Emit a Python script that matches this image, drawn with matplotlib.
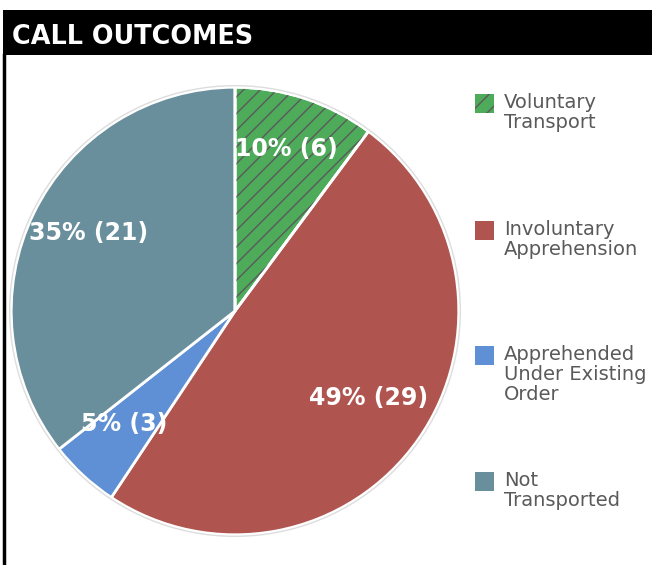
import numpy as np
import matplotlib
matplotlib.use("Agg")
import matplotlib.pyplot as plt
from matplotlib.patches import Circle, Rectangle, Wedge
from matplotlib.lines import Line2D
from matplotlib.transforms import offset_copy

# data
categories = ["Voluntary\nTransport", "Involuntary\nApprehension",
              "Apprehended\nUnder Existing\nOrder", "Not\nTransported"]
counts = [6, 29, 3, 21]
pct_labels = ["10% (6)", "49% (29)", "5% (3)", "35% (21)"]
colors = ["#4dab5a", "#b05450", "#5f8fd4", "#6a8f9c"]
hatches = ["//", None, None, None]

W, H = 652, 565
fig = plt.figure(figsize=(W / 100, H / 100), dpi=100)
plt.rcParams["hatch.linewidth"] = 1.0

# title bar
fig.patches.append(Rectangle((3 / W, 1 - 55 / H), 1, 45 / H, transform=fig.transFigure,
                             facecolor="black", edgecolor="none"))
fig.text(12 / W, 1 - 37 / H, "CALL OUTCOMES", color="white", fontsize=18.4,
         fontweight="bold", va="center", ha="left")
# left border
fig.lines.append(Line2D([4 / W, 4 / W], [0, 1 - 55 / H], transform=fig.transFigure,
                        color="black", lw=2.5))

cx, cy, r = 235, 311, 226
ax = fig.add_axes([(cx - r) / W, (H - cy - r) / H, 2 * r / W, 2 * r / H])
wedges, texts = ax.pie(counts, colors=colors, startangle=90, counterclock=False,
                       labels=pct_labels, labeldistance=0.73, radius=1.0,
                       wedgeprops=dict(edgecolor="white", linewidth=2))
# hatch overlay in grey
for w, h in zip(wedges, hatches):
    if h:
        ov = Wedge(w.center, w.r * 0.995, w.theta1, w.theta2, facecolor="none",
                   edgecolor="#5a5a5a", lw=0, hatch=h)
        ax.add_patch(ov)
        ax.add_patch(Wedge(w.center, w.r, w.theta1, w.theta2, facecolor="none",
                           edgecolor="white", lw=2))
lift = offset_copy(ax.transData, fig=fig, x=0, y=7, units="dots")
for t in texts:
    t.set_color("white")
    t.set_fontweight("bold")
    t.set_fontsize(17)
    t.set_ha("center")
    t.set_va("center")
    t.set_zorder(5)
    t.set_transform(lift)
ax.add_patch(Circle((0, 0), 1.007, facecolor="none", edgecolor="#dddddd", lw=1))
ax.set_xlim(-1.01, 1.01)
ax.set_ylim(-1.01, 1.01)
ax.set_aspect("equal")
ax.axis("off")

# legend, drawn by hand so the swatch sits on the first text line
leg_tops = [94, 221, 346, 472]
for lab, col, h, top in zip(categories, colors, hatches, leg_tops):
    fig.patches.append(Rectangle((475 / W, 1 - (top + 19) / H), 19 / W, 19 / H,
                                 transform=fig.transFigure, facecolor=col,
                                 edgecolor="#5a5a5a" if h else col, lw=0,
                                 hatch="//" if h else None))
    fig.text(504 / W, 1 - (top - 1) / H, lab, color="#5a5a5a", fontsize=14,
             va="top", ha="left", linespacing=1.05)

fig.savefig("out.png", dpi=100)
